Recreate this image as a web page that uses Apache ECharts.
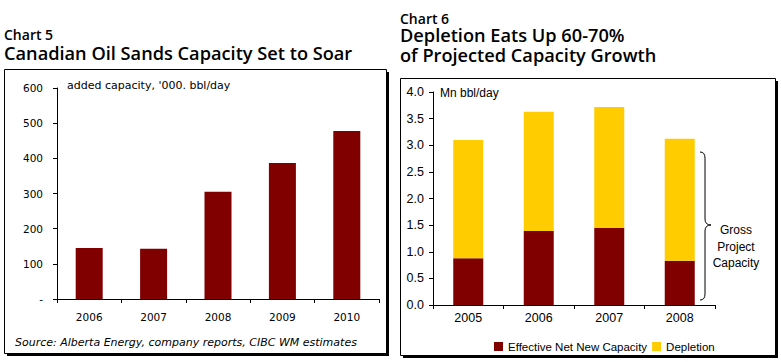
<!DOCTYPE html>
<html><head><meta charset="utf-8">
<script src="https://cdn.jsdelivr.net/npm/echarts@6/dist/echarts.min.js"></script>
<style>html,body{margin:0;padding:0;background:#fff}#c{width:781px;height:362px}</style>
</head><body><div id="c"></div>
<script>
// Chart 5 data
const years5 = ['2006','2007','2008','2009','2010'];
const addedCapacity = [145, 143, 305, 387, 478];
const ticks5 = [0,100,200,300,400,500,600];
// Chart 6 data
const years6 = ['2005','2006','2007','2008'];
const netNew = [0.88, 1.39, 1.45, 0.83];
const depletion = [2.22, 2.24, 2.27, 2.29];
const ticks6 = [0,0.5,1,1.5,2,2.5,3,3.5,4];

const DARK = '#800000', YEL = '#FFCC00';
const F5 = 'DejaVu Sans', F6 = 'Liberation Sans';

const chart = echarts.init(document.getElementById('c'), null, {renderer:'svg'});
const axisLine = {show:true, lineStyle:{color:'#000', width:1}};
const bline = {stroke:'#000', lineWidth:1, fill:'none'};
const option = {
  animation:false,
  grid:[
    {left:57, top:88, width:322, height:211, containLabel:false},
    {left:433, top:92, width:282, height:213, containLabel:false}
  ],
  xAxis:[
    {type:'category', gridIndex:0, data:years5, boundaryGap:true,
     axisLine:axisLine, axisTick:{show:true, length:4, lineStyle:{color:'#000'}},
     axisLabel:{fontFamily:F5, fontSize:10.5, color:'#000', margin:12}},
    {type:'category', gridIndex:1, data:years6, boundaryGap:true,
     axisLine:axisLine, axisTick:{show:true, length:4, lineStyle:{color:'#000'}},
     axisLabel:{fontFamily:F6, fontSize:12.5, color:'#000', margin:6}}
  ],
  yAxis:[
    {type:'value', gridIndex:0, min:ticks5[0], max:ticks5[ticks5.length-1], interval:100,
     axisLine:axisLine, axisTick:{show:true, length:4, lineStyle:{color:'#000'}},
     splitLine:{show:false},
     axisLabel:{fontFamily:F5, fontSize:10.5, color:'#000', margin:14,
       formatter:v => v===0 ? '-' : String(v)}},
    {type:'value', gridIndex:1, min:ticks6[0], max:ticks6[ticks6.length-1], interval:0.5,
     axisLine:axisLine, axisTick:{show:true, length:4, lineStyle:{color:'#000'}},
     splitLine:{show:false},
     axisLabel:{fontFamily:F6, fontSize:12.5, color:'#000', margin:9,
       formatter:v => v.toFixed(1)}}
  ],
  legend:{left:494, top:340, padding:0, itemWidth:9, itemHeight:9, itemGap:5,
    icon:'rect', textStyle:{fontFamily:F6, fontSize:11.5, color:'#000', lineHeight:13},
    data:['Effective Net New Capacity','Depletion']},
  series:[
    {type:'bar', xAxisIndex:0, yAxisIndex:0, data:addedCapacity, barWidth:27,
     itemStyle:{color:DARK}},
    {name:'Effective Net New Capacity', type:'bar', stack:'s', xAxisIndex:1, yAxisIndex:1,
     data:netNew, barWidth:30, itemStyle:{color:DARK}},
    {name:'Depletion', type:'bar', stack:'s', xAxisIndex:1, yAxisIndex:1,
     data:depletion, barWidth:30, itemStyle:{color:YEL}}
  ],
  graphic:[
    {type:'rect', shape:{x:7, y:72, width:382, height:284}, style:{fill:'#000'}, z:-2},
    {type:'rect', shape:{x:4.5, y:69.5, width:382, height:284}, style:{fill:'#fff', stroke:'#000', lineWidth:1}, z:-1},
    {type:'rect', shape:{x:403, y:81, width:375, height:277}, style:{fill:'#000'}, z:-2},
    {type:'rect', shape:{x:400.5, y:78.5, width:375, height:277}, style:{fill:'#fff', stroke:'#000', lineWidth:1}, z:-1},
    {type:'text', x:4, y:27, style:{text:'Chart 5', font:'600 14px "Open Sans"', lineHeight:14, fill:'#000'}},
    {type:'text', x:4, y:44, style:{text:'Canadian Oil Sands Capacity Set to Soar', font:'600 18.2px "Open Sans"', lineHeight:18, fill:'#000'}},
    {type:'text', x:400, y:11, style:{text:'Chart 6', font:'600 14px "Open Sans"', lineHeight:14, fill:'#000'}},
    {type:'text', x:400, y:26, style:{text:'Depletion Eats Up 60-70%', font:'600 18.2px "Open Sans"', lineHeight:18, fill:'#000'}},
    {type:'text', x:400, y:46, style:{text:'of Projected Capacity Growth', font:'600 18.2px "Open Sans"', lineHeight:18, fill:'#000'}},
    {type:'text', x:67, y:80, style:{text:"added capacity, '000. bbl/day", font:'11px "DejaVu Sans"', fill:'#000'}},
    {type:'text', x:15, y:337, style:{text:'Source: Alberta Energy, company reports, CIBC WM estimates', font:'italic 11px "DejaVu Sans"', fill:'#000'}},
    {type:'text', x:440, y:87, style:{text:'Mn bbl/day', font:'12px "Liberation Sans"', fill:'#000'}},
    {type:'text', x:736, y:222, style:{text:'Gross\nProject\nCapacity', font:'12px "Liberation Sans"', lineHeight:16.5, align:'center', verticalAlign:'top', fill:'#000'}},
    {type:'bezierCurve', shape:{x1:700, y1:152, cpx1:705, cpy1:152, x2:705, y2:158}, style:bline},
    {type:'line', shape:{x1:705, y1:158, x2:705, y2:219}, style:bline},
    {type:'bezierCurve', shape:{x1:705, y1:219, cpx1:705, cpy1:225, x2:711, y2:225}, style:bline},
    {type:'bezierCurve', shape:{x1:711, y1:225, cpx1:705, cpy1:225, x2:705, y2:231}, style:bline},
    {type:'line', shape:{x1:705, y1:231, x2:705, y2:294}, style:bline},
    {type:'bezierCurve', shape:{x1:705, y1:294, cpx1:705, cpy1:300, x2:700, y2:300}, style:bline}
  ]
};
chart.setOption(option);
</script></body></html>
